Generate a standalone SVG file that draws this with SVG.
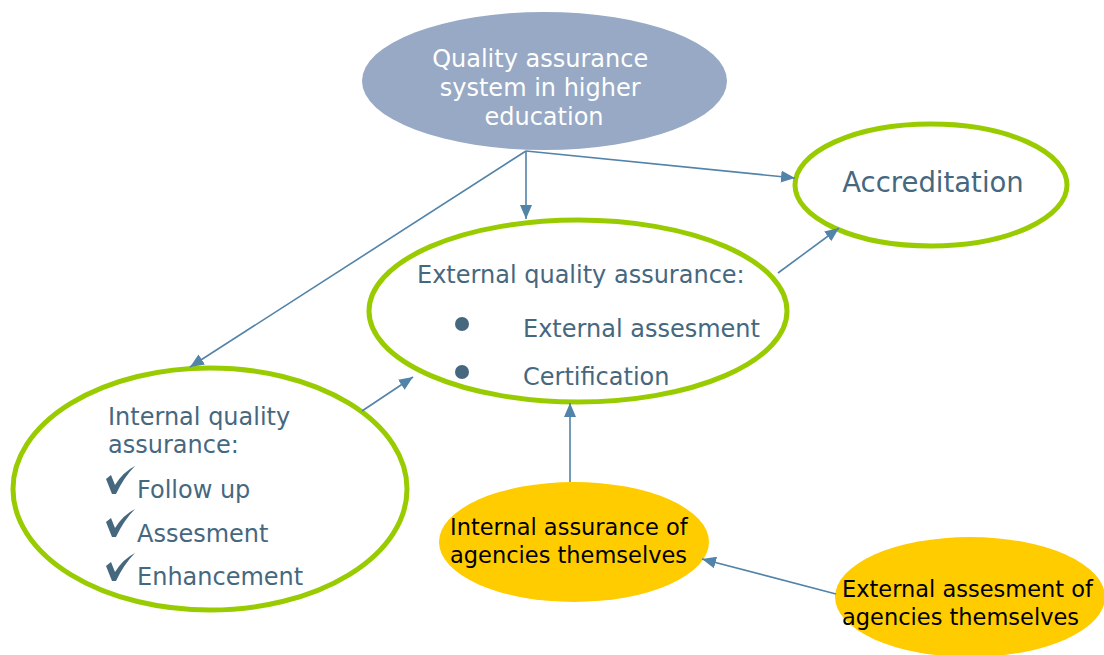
<svg xmlns="http://www.w3.org/2000/svg" width="1104" height="655" viewBox="0 0 1104 655">
<defs>
<marker id="ah" viewBox="0 0 14 12" refX="14" refY="6" markerWidth="14" markerHeight="12" markerUnits="userSpaceOnUse" orient="auto">
<path d="M0,0 L14,6 L0,12 Z" fill="#5283A8"/>
</marker>
</defs>
<style>
.green{fill:#fff;stroke:#99CC00;stroke-width:5}
.yel{fill:#FFCC00;stroke:none}
.blue{font-family:"DejaVu Sans",Verdana,sans-serif;fill:#46687F;font-size:24px}
.blk{font-family:"DejaVu Sans",Tahoma,sans-serif;fill:#000;font-size:22.5px}
.conn{stroke:#5283A8;stroke-width:1.6;fill:none;marker-end:url(#ah)}
.chk{fill:#46687F}
</style>
<rect width="1104" height="655" fill="#fff"/>
<g id="top">
<ellipse cx="544.5" cy="81" rx="182.5" ry="69" fill="#97A9C4"/>
<text font-family="DejaVu Sans,Verdana,sans-serif" font-size="24" fill="#fff" text-anchor="middle">
<tspan x="544" y="67">Quality assurance</tspan>
<tspan x="544" y="96">system in higher</tspan>
<tspan x="544" y="125">education</tspan>
</text>
</g>
<g id="accreditation">
<ellipse class="green" cx="931" cy="185" rx="136" ry="61"/>
<text class="blue" x="933" y="192" style="font-size:27.5px" text-anchor="middle">Accreditation</text>
</g>
<g id="external">
<ellipse class="green" cx="578" cy="311" rx="209" ry="91"/>
<text class="blue" x="417" y="283">External quality assurance:</text>
<circle cx="462" cy="324" r="7" fill="#46687F"/>
<circle cx="462" cy="372" r="7" fill="#46687F"/>
<text class="blue" x="523" y="337">External assesment</text>
<text class="blue" x="523" y="385">Certification</text>
</g>
<g id="internal">
<ellipse class="green" cx="210" cy="489" rx="197" ry="121"/>
<text class="blue">
<tspan x="108" y="425">Internal quality</tspan>
<tspan x="108" y="453">assurance:</tspan>
</text>
<path class="chk" d="M106,479 L111,475 L115,485 Q123,472 135,466 Q124,477 116,494 L112,494 Z"/>
<path class="chk" d="M106,522 L111,518 L115,528 Q123,515 135,509 Q124,520 116,537 L112,537 Z"/>
<path class="chk" d="M106,566 L111,562 L115,572 Q123,559 135,553 Q124,564 116,581 L112,581 Z"/>
<text class="blue" x="137" y="498">Follow up</text>
<text class="blue" x="137" y="542">Assesment</text>
<text class="blue" x="137" y="585">Enhancement</text>
</g>
<g id="internal-agencies">
<ellipse class="yel" cx="574" cy="542" rx="135" ry="60"/>
<text class="blk"><tspan x="450" y="535">Internal assurance of</tspan><tspan x="450" y="563">agencies themselves</tspan></text>
</g>
<g id="external-agencies">
<ellipse class="yel" cx="970" cy="597" rx="135" ry="60"/>
<text class="blk"><tspan x="842" y="597">External assesment of</tspan><tspan x="842" y="625">agencies themselves</tspan></text>
</g>
<g id="connectors">
<line class="conn" x1="526" y1="151" x2="526" y2="219"/>
<line class="conn" x1="526" y1="151" x2="190" y2="367"/>
<line class="conn" x1="526" y1="151" x2="795" y2="178"/>
<line class="conn" x1="362" y1="411" x2="413" y2="377"/>
<line class="conn" x1="778" y1="273" x2="839" y2="228"/>
<line class="conn" x1="570" y1="482" x2="570" y2="403"/>
<line class="conn" x1="836" y1="594" x2="702" y2="559"/>
</g>
</svg>
